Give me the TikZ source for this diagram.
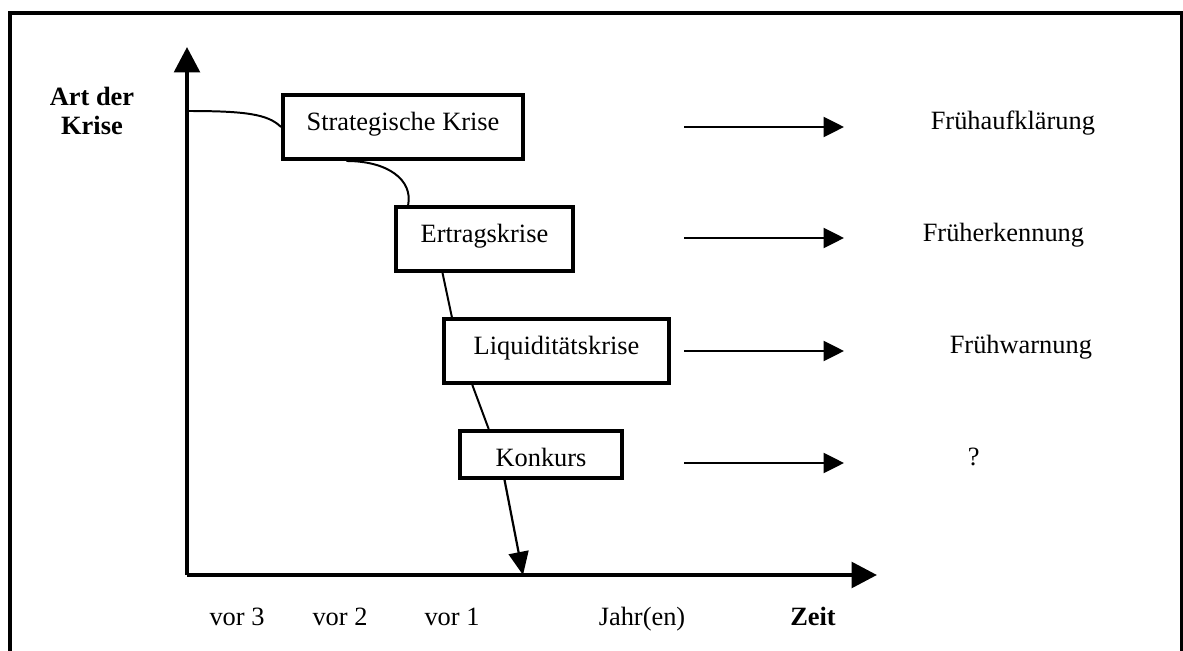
\documentclass[tikz,border=0pt]{standalone}
\usepackage{fontspec}
\setmainfont{Liberation Serif}
\usepackage{tikz}
\usetikzlibrary{arrows.meta}

\begin{document}
\begin{tikzpicture}[x=0.4545pt,y=-0.4545pt,font=\fontsize{12}{13.6}\selectfont]
  \tikzstyle{krise}=[draw,line width=1.8pt,inner sep=0pt,text height=8pt,text depth=5pt,minimum height=29.1pt]
  \tikzstyle{axis}=[line width=2pt,-{Triangle[length=11.5pt,width=11.5pt]}]
  \tikzstyle{link}=[line width=0.9pt]
  \tikzstyle{pfeil}=[line width=1pt,-{Triangle[length=9.3pt,width=9.1pt]}]
  \useasboundingbox (0,0) rectangle (1183,651);
  % Rahmen (unten offen)
  \draw[line width=1.8pt] (10,651) -- (10,13) -- (1181.5,13) -- (1181.5,651);
  % Achsen
  \coordinate (O) at (187,575);
  \coordinate (ytip) at (187,47);
  \coordinate (xtip) at (877,575);
  \coordinate (hit) at (523,575);
  \coordinate (start) at (187,111);
  \draw[axis] (O) -- (ytip);
  \draw[axis] (O) -- (xtip);
  \node[font=\fontsize{12}{13.6}\selectfont\bfseries,align=center] (art) at (92,111) {Art der\\Krise};
  % Krisenstufen
  \node[krise,minimum width=109.1pt] (strat) at (403,127) {Strategische Krise};
  \node[krise,minimum width=80.4pt] (ertrag) at (484.5,239) {Ertragskrise};
  \node[krise,minimum width=102.3pt] (liqu) at (556.5,351) {Liquiditätskrise};
  \node[krise,minimum width=73.6pt,minimum height=21.4pt,text height=14pt,text depth=3pt] (konk) at (541,454.5) {Konkurs};
  \draw[link] (start) .. controls (245,111) and (268,114) .. (strat.west);
  \draw[link] (strat.211) .. controls (388,161) and (413,180) .. (ertrag.156);
  \draw[link] (ertrag.219) -- (liqu.162);
  \draw[link] (liqu.202) -- (konk.154);
  \draw[line width=1pt,-{Triangle[length=10.5pt,width=9.1pt]}] (konk.215) -- (hit);
  % Pfeile nach rechts
  \foreach \y/\n in {127/1,238/2,351/3,463/4} {
    \coordinate (from\n) at (684,\y);
    \coordinate (to\n) at (844,\y);
    \draw[pfeil] (from\n) -- (to\n);
  }
  \node[anchor=base west] (fa) at (923,130) {Frühaufklärung};
  \node[anchor=base west] (fe) at (915,242) {Früherkennung};
  \node[anchor=base west] (fw) at (942,353) {Frühwarnung};
  \node[anchor=base west] (fq) at (960,465) {?};
  % Zeitachse
  \node[anchor=base] (v3) at (237,625) {vor 3};
  \node[anchor=base] (v2) at (340,625) {vor 2};
  \node[anchor=base] (v1) at (452,625) {vor 1};
  \node[anchor=base] (jahr) at (642,625) {Jahr(en)};
  \node[anchor=base,font=\fontsize{12}{13.6}\selectfont\bfseries] (zeit) at (813,625) {Zeit};
\end{tikzpicture}
\end{document}
